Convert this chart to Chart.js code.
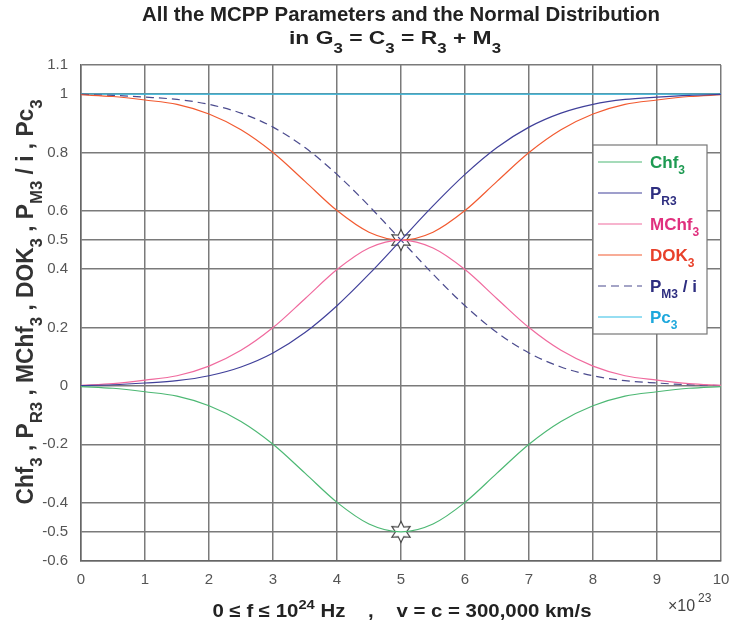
<!DOCTYPE html>
<html>
<head>
<meta charset="utf-8">
<script src="https://cdn.jsdelivr.net/npm/chart.js@4"></script>
<style>
  html, body { margin: 0; padding: 0; background: #fff; }
  #wrap { width: 732px; height: 626px; position: relative; }
</style>
</head>
<body>
<div id="wrap"><canvas id="myChart"></canvas></div>
<script>
// values, x in units of 10^23 Hz
const xValues = [0, 0.5, 1, 1.5, 2, 2.5, 3, 3.5, 4, 4.5, 5, 5.5, 6, 6.5, 7, 7.5, 8, 8.5, 9, 9.5, 10];
const chfValues  = [-0.002, -0.008, -0.02, -0.035, -0.068, -0.122, -0.2, -0.299, -0.399, -0.473, -0.5, -0.473, -0.399, -0.299, -0.2, -0.122, -0.068, -0.035, -0.02, -0.008, -0.002];
const prValues   = [0.001, 0.004, 0.01, 0.018, 0.035, 0.065, 0.113, 0.183, 0.275, 0.383, 0.5, 0.617, 0.725, 0.817, 0.887, 0.935, 0.965, 0.982, 0.99, 0.996, 0.999];
const mchfValues = [0.002, 0.008, 0.02, 0.035, 0.068, 0.122, 0.2, 0.299, 0.399, 0.473, 0.5, 0.473, 0.399, 0.299, 0.2, 0.122, 0.068, 0.035, 0.02, 0.008, 0.002];
const dokValues  = [0.998, 0.992, 0.98, 0.965, 0.932, 0.878, 0.8, 0.701, 0.601, 0.527, 0.5, 0.527, 0.601, 0.701, 0.8, 0.878, 0.932, 0.965, 0.98, 0.992, 0.998];
const pmValues   = [0.999, 0.996, 0.99, 0.982, 0.965, 0.935, 0.887, 0.817, 0.725, 0.617, 0.5, 0.383, 0.275, 0.183, 0.113, 0.065, 0.035, 0.018, 0.01, 0.004, 0.001];
const pcValues   = [1, 1, 1, 1, 1, 1, 1, 1, 1, 1, 1, 1, 1, 1, 1, 1, 1, 1, 1, 1, 1];

const starX = [5, 5];
const starY = [0.5, -0.5];

const yTickValues = [-0.6, -0.5, -0.4, -0.2, 0, 0.2, 0.4, 0.5, 0.6, 0.8, 1, 1.1];
const xTickValues = [0, 1, 2, 3, 4, 5, 6, 7, 8, 9, 10];

// legend rows: [main, subscript, suffix]
const legendRows = [
  ['Chf', '3', ''],
  ['P', 'R3', ''],
  ['MChf', '3', ''],
  ['DOK', '3', ''],
  ['P', 'M3', ' / i'],
  ['Pc', '3', '']
];

const FONT = '"Liberation Sans", Arial, sans-serif';

const lineColors = ['#4db874', '#40409a', '#f06a9e', '#f25a30', '#4b4b8e', '#2ebde6'];
const textColors = ['#1e9a52', '#2e2e80', '#e0307e', '#e8402a', '#2e2e80', '#1ea8dc'];

function pts(ys) {
  return xValues.map((x, i) => ({ x: x, y: ys[i] }));
}

// six pointed star marker
function makeStar() {
  const c = document.createElement('canvas');
  c.width = 24; c.height = 24;
  const g = c.getContext('2d');
  g.beginPath();
  for (let i = 0; i < 12; i++) {
    const r = i % 2 === 0 ? 10.5 : 5.6;
    const a = -Math.PI / 2 + i * Math.PI / 6;
    const px = 12 + r * Math.cos(a), py = 12 + r * Math.sin(a);
    if (i === 0) g.moveTo(px, py); else g.lineTo(px, py);
  }
  g.closePath();
  g.fillStyle = '#fff';
  g.fill();
  g.strokeStyle = '#444';
  g.lineWidth = 1.2;
  g.stroke();
  return c;
}

function richWidth(ctx, parts, size) {
  let w = 0;
  parts.forEach(p => {
    ctx.font = 'bold ' + (p.s || p.u ? Math.round(size * 0.72) : size) + 'px ' + FONT;
    w += ctx.measureText(p.t).width;
  });
  return w;
}
// text pieces with sub/superscripts; fitW squeezes/stretches to a given width
function drawRich(ctx, parts, x, y, size, color, align, fitW, subDy) {
  const w = richWidth(ctx, parts, size);
  const k = fitW ? fitW / w : 1;
  ctx.save();
  ctx.translate(x, y);
  ctx.scale(k, 1);
  let cx = align === 'center' ? -w / 2 : 0;
  ctx.textAlign = 'left';
  ctx.textBaseline = 'alphabetic';
  parts.forEach(p => {
    const small = p.s || p.u;
    ctx.font = 'bold ' + (small ? Math.round(size * 0.72) : size) + 'px ' + FONT;
    ctx.fillStyle = p.c || color;
    const dy = p.s ? (subDy || size * 0.38) : (p.u ? -size * 0.45 : 0);
    ctx.fillText(p.t, cx, dy);
    cx += ctx.measureText(p.t).width;
  });
  ctx.restore();
}

const decorPlugin = {
  id: 'decor',
  afterDraw(chart) {
    const ctx = chart.ctx;
    ctx.save();

    // title
    drawRich(ctx, [{ t: 'All the MCPP Parameters and the Normal Distribution' }], 401, 21, 20, '#222', 'center', 518);
    drawRich(ctx, [
      { t: 'in G' }, { t: '3', s: 1 }, { t: ' = C' }, { t: '3', s: 1 },
      { t: ' = R' }, { t: '3', s: 1 }, { t: ' + M' }, { t: '3', s: 1 }
    ], 395, 44, 19, '#222', 'center', 212, 9);

    // y axis title
    ctx.save();
    ctx.translate(33, 302);
    ctx.rotate(-Math.PI / 2);
    drawRich(ctx, [
      { t: 'Chf' }, { t: '3', s: 1 }, { t: ' , P' }, { t: 'R3', s: 1 },
      { t: ' , MChf' }, { t: '3', s: 1 }, { t: ' , DOK' }, { t: '3', s: 1 },
      { t: ' , P' }, { t: 'M3', s: 1 }, { t: ' / i , Pc' }, { t: '3', s: 1 }
    ], 0, 0, 23, '#333', 'center', 405, 9);
    ctx.restore();

    // x axis title
    drawRich(ctx, [
      { t: '0 \u2264 f \u2264 10' }, { t: '24', u: 1 },
      { t: ' Hz    ,    v = c = 300,000 km/s' }
    ], 402, 617, 18, '#222', 'center', 379);

    // exponent
    ctx.font = '16px ' + FONT;
    ctx.fillStyle = '#444';
    ctx.textAlign = 'left';
    ctx.fillText('\u00d710', 668, 611);
    ctx.font = '12px ' + FONT;
    ctx.fillText('23', 698, 602);

    // legend box
    const lx = 593, ly = 145, lw = 114, lh = 189;
    ctx.fillStyle = '#fff';
    ctx.fillRect(lx, ly, lw, lh);
    ctx.strokeStyle = '#777';
    ctx.lineWidth = 1.2;
    ctx.strokeRect(lx, ly, lw, lh);
    legendRows.forEach((row, i) => {
      const yy = 162 + i * 31;
      ctx.strokeStyle = lineColors[i];
      ctx.lineWidth = 1.2;
      ctx.setLineDash(i === 4 ? [8, 5] : []);
      ctx.beginPath();
      ctx.moveTo(598, yy);
      ctx.lineTo(642, yy);
      ctx.stroke();
      ctx.setLineDash([]);
      const parts = [{ t: row[0] }, { t: row[1], s: 1 }];
      if (row[2]) parts.push({ t: row[2] });
      drawRich(ctx, parts, 650, yy + 6, 17, textColors[i], 'left');
    });

    ctx.restore();
  }
};

const lineBase = {
  fill: false,
  pointRadius: 0,
  borderWidth: 1.2,
  cubicInterpolationMode: 'monotone'
};

const data = {
  datasets: [
    Object.assign({ label: 'Chf3', data: pts(chfValues), borderColor: lineColors[0] }, lineBase),
    Object.assign({ label: 'PR3', data: pts(prValues), borderColor: lineColors[1] }, lineBase),
    Object.assign({ label: 'MChf3', data: pts(mchfValues), borderColor: lineColors[2] }, lineBase),
    Object.assign({ label: 'DOK3', data: pts(dokValues), borderColor: lineColors[3] }, lineBase),
    Object.assign({ label: 'PM3 / i', data: pts(pmValues), borderColor: lineColors[4], borderDash: [8, 5] }, lineBase),
    Object.assign({ label: 'Pc3', data: pts(pcValues), borderColor: lineColors[5] }, lineBase),
    {
      label: 'stars',
      type: 'scatter',
      data: starX.map((x, i) => ({ x: x, y: starY[i] })),
      pointStyle: makeStar(),
      pointRadius: 10
    }
  ]
};

const config = {
  type: 'line',
  data: data,
  options: {
    responsive: true,
    maintainAspectRatio: false,
    animation: false,
    layout: { padding: { left: 0, right: 11, top: 65, bottom: 35 } },
    plugins: {
      legend: { display: false },
      title: { display: false },
      tooltip: { enabled: false }
    },
    scales: {
      x: {
        type: 'linear',
        min: 0,
        max: 10,
        afterBuildTicks: axis => { axis.ticks = xTickValues.map(v => ({ value: v })); },
        afterFit: axis => { axis.height = 30; axis.paddingLeft = 0; axis.paddingRight = 0; },
        grid: { color: '#7a7a7a', lineWidth: 1.5, drawTicks: false },
        border: { color: '#666', width: 1.5 },
        ticks: {
          padding: 10,
          color: '#555',
          font: { family: FONT, size: 15 },
          maxRotation: 0,
          callback: v => String(v)
        }
      },
      y: {
        min: -0.6,
        max: 1.1,
        afterBuildTicks: axis => { axis.ticks = yTickValues.map(v => ({ value: v })); },
        afterFit: axis => { axis.width = 81; },
        grid: { color: '#7a7a7a', lineWidth: 1.5, drawTicks: false },
        border: { color: '#666', width: 1.5 },
        ticks: {
          padding: 13,
          color: '#555',
          font: { family: FONT, size: 15 },
          callback: v => String(Math.round(v * 10) / 10)
        }
      }
    }
  },
  plugins: [decorPlugin]
};

const chart = new Chart(document.getElementById('myChart'), config);
</script>
</body>
</html>
